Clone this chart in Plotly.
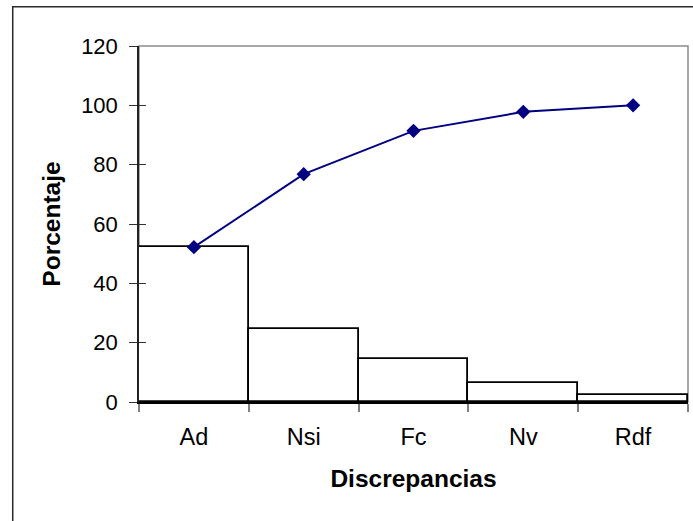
import plotly.graph_objects as go

# Pareto data: share of each discrepancy type and its running total (%)
categories = ["Ad", "Nsi", "Fc", "Nv", "Rdf"]
percentages = [52.2, 24.6, 14.6, 6.4, 2.2]
cumulative = [52.2, 76.8, 91.4, 97.8, 100.0]
y_ticks = [0, 20, 40, 60, 80, 100, 120]

FONT = "Arial, Liberation Sans, sans-serif"

fig = go.Figure()

fig.add_trace(go.Bar(
    x=categories,
    y=percentages,
    marker=dict(color="white", line=dict(color="black", width=1.8)),
    showlegend=False,
))

fig.add_trace(go.Scatter(
    x=categories,
    y=cumulative,
    mode="lines+markers",
    line=dict(color="#000080", width=2),
    marker=dict(symbol="diamond", size=11, color="#000080"),
    showlegend=False,
))

# Gray plot-area border behind the traces
fig.add_shape(type="rect", xref="paper", yref="paper", x0=0, y0=0, x1=1, y1=1,
              line=dict(color="#8c8c8c", width=1.5), layer="below")
# Outer chart frame (runs past the right and bottom edges)
fig.add_shape(type="rect", xref="paper", yref="paper",
              x0=-0.230, y0=-0.40, x1=1.05, y1=1.110,
              line=dict(color="#2a2a2a", width=1.5), layer="below")

fig.update_layout(
    width=693, height=521,
    margin=dict(l=139, r=5, t=46, b=119),
    paper_bgcolor="white",
    plot_bgcolor="white",
    bargap=0,
    font=dict(family=FONT, color="black", size=22),
    xaxis=dict(
        type="category",
        tickson="boundaries",
        ticks="outside", ticklen=8, tickwidth=1.5, tickcolor="#808080",
        ticklabelstandoff=13,
        tickfont=dict(size=23.5),
        showline=True, linecolor="black", linewidth=2,
        showgrid=False, zeroline=False,
        title=dict(text="<b>Discrepancias</b>", font=dict(size=24.5), standoff=21),
    ),
    yaxis=dict(
        range=[0, 120],
        tickvals=y_ticks,
        ticktext=[str(v) for v in y_ticks],
        ticks="outside", ticklen=8, tickwidth=1.3, tickcolor="#333333",
        ticklabelstandoff=7,
        tickfont=dict(size=22),
        showline=True, linecolor="#222222", linewidth=1.5,
        showgrid=False, zeroline=False,
        title=dict(text="<b>Porcentaje</b>", font=dict(size=24.5), standoff=14),
    ),
    # Inner half of the crossing tick marks on the value axis
    yaxis2=dict(
        overlaying="y", side="left", range=[0, 120],
        tickvals=y_ticks, showticklabels=False,
        ticks="inside", ticklen=7, tickwidth=1.3, tickcolor="#333333",
        showline=False, showgrid=False, zeroline=False,
    ),
)

# Dummy trace so the secondary axis is rendered
fig.add_trace(go.Scatter(x=[categories[0]], y=[0], yaxis="y2", mode="markers",
                         marker=dict(opacity=0), showlegend=False, hoverinfo="skip"))

fig.write_html("out.html")
